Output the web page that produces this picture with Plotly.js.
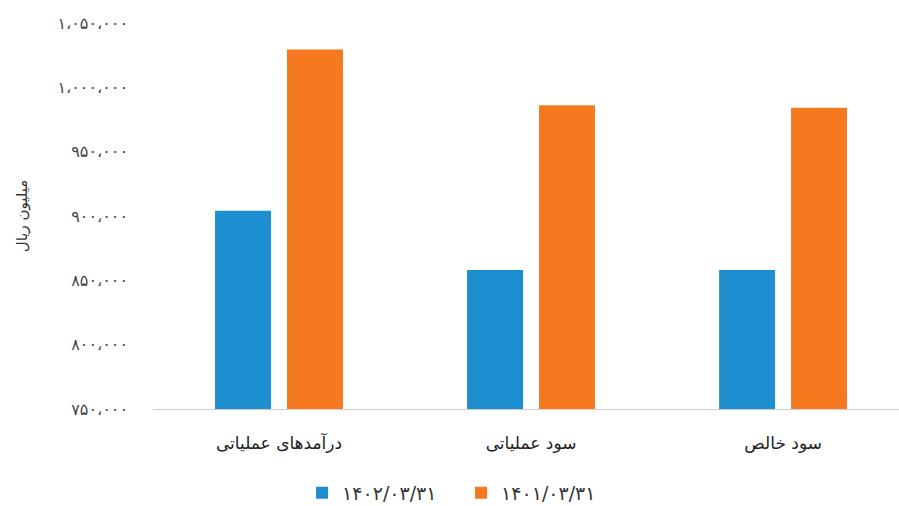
<!DOCTYPE html>
<html>
<head>
<meta charset="utf-8">
<script src="https://cdn.plot.ly/plotly-3.0.1.min.js"></script>
<style>html,body{margin:0;padding:0;background:#fff;}#chart{width:899px;height:506px;}</style>
</head>
<body>
<div id="chart"></div>
<script>
var categories = ["درآمدهای عملیاتی", "سود عملیاتی", "سود خالص"];
var series1Name = "۱۴۰۲/۰۳/۳۱";
var series2Name = "۱۴۰۱/۰۳/۳۱";
var series1Values = [904000, 858000, 858000];
var series2Values = [1029500, 986000, 984200];
var yTickVals = [750000, 800000, 850000, 900000, 950000, 1000000, 1050000];
var yTickText = ["۷۵۰،۰۰۰", "۸۰۰،۰۰۰", "۸۵۰،۰۰۰", "۹۰۰،۰۰۰", "۹۵۰،۰۰۰", "۱،۰۰۰،۰۰۰", "۱،۰۵۰،۰۰۰"];
var yTitle = "میلیون ریال";

var font = "DejaVu Sans, Noto Sans, sans-serif";
var data = [
  {type: "bar", name: series1Name, x: categories, y: series1Values, marker: {color: "#1d8fd0"}, hoverinfo: "skip"},
  {type: "bar", name: series2Name, x: categories, y: series2Values, marker: {color: "#f5791f"}, hoverinfo: "skip"}
];
var layout = {
  width: 899, height: 506,
  margin: {l: 153, r: 0, t: 23, b: 97},
  paper_bgcolor: "#ffffff", plot_bgcolor: "#ffffff",
  barmode: "group", bargap: 0.429, bargroupgap: 0.222,
  font: {family: font, color: "#333"},
  xaxis: {
    type: "category", range: [-0.5, 2.46], showgrid: false, zeroline: false,
    showline: true, linecolor: "#cfcfcf", linewidth: 1, ticks: "",
    tickfont: {size: 17, color: "#222"}, ticklabelstandoff: 19, automargin: false
  },
  yaxis: {
    range: [750000, 1050000], tickvals: yTickVals, ticktext: yTickText,
    showgrid: false, zeroline: false, showline: false, ticks: "",
    tickfont: {size: 16, color: "#444"}, ticklabelstandoff: 24, automargin: false,
    title: {text: yTitle, font: {size: 15, color: "#333"}, standoff: 26}
  },
  showlegend: true,
  legend: {
    orientation: "h", xref: "container", yref: "container",
    x: 0.336, xanchor: "left", y: 0.026, yanchor: "middle",
    font: {size: 19, color: "#333"}, entrywidth: 114, entrywidthmode: "pixels",
    traceorder: "normal", bgcolor: "rgba(0,0,0,0)"
  }
};
Plotly.newPlot("chart", data, layout, {staticPlot: true, displayModeBar: false});
</script>
</body>
</html>
